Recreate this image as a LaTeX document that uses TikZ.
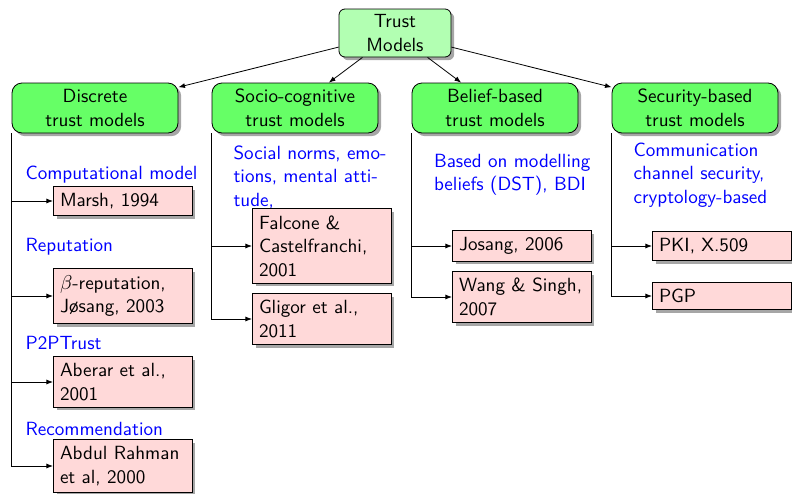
\documentclass[tikz,border=0pt]{standalone}
\usetikzlibrary{shadows,arrows.meta}
\renewcommand\familydefault{\sfdefault}
\begin{document}
\begin{tikzpicture}[x=0.5pt,y=-0.5pt,
  font=\sffamily\fontsize{9.55pt}{11.75pt}\selectfont,
  shade/.style={drop shadow={shadow xshift=1.6pt,shadow yshift=-1.6pt,opacity=0.35,fill=black}},
  rootbox/.style={draw, rounded corners=3pt, fill=green!30, align=center,
    minimum width=56pt, minimum height=24pt, inner sep=2pt, shade},
  catbox/.style={draw, rounded corners=5pt, fill=green!60, align=center,
    minimum width=83pt, minimum height=25pt, inner sep=2pt, shade},
  refbox/.style={draw, fill=red!15, text width=62.8pt, inner xsep=3.3pt, align=left, anchor=west, shade},
  note/.style={text=blue, align=left, anchor=west},
  arr/.style={-{Latex[length=3.3pt,width=2.5pt]}},
]
\useasboundingbox (0,0) rectangle (792,493);

% top level and categories
\node[rootbox] (root) at (395,33) {Trust\\Models};
\node[catbox] (disc) at (95,108) {Discrete\\trust models};
\node[catbox] (soc) at (295,108) {Socio-cognitive\\trust models};
\node[catbox] (bel) at (495,108) {Belief-based\\trust models};
\node[catbox] (sec) at (695,108) {Security-based\\trust models};

\foreach \c in {disc,soc,bel,sec}
  \draw[arr] (root) -- (\c);

% discrete trust models
\node[note] (n1) at (18.5,175) {Computational model};
\node[refbox] (marsh) at (53,201) {Marsh, 1994};
\node[note] (n2) at (18.5,247) {Reputation};
\node[refbox] (beta) at (53,296) {$\beta$-reputation, J\o sang, 2003};
\node[note] (n3) at (18.5,343) {P2PTrust};
\node[refbox] (aber) at (53,382) {Aberar et al., 2001};
\node[note] (n4) at (18.5,429) {Recommendation};
\node[refbox] (abdul) at (53,466) {Abdul Rahman et al, 2000};

% socio-cognitive trust models
\node[note] (n5) at (226.5,177) {Social norms, emo-\\tions, mental atti-\\tude,};
\node[refbox] (falc) at (252,246) {Falcone \& Castelfranchi, 2001};
\node[refbox] (glig) at (252,319) {Gligor et al., 2011};

% belief-based trust models
\node[note] (n6) at (427,175) {Based on modelling\\beliefs (DST), BDI};
\node[refbox] (jos) at (452,246) {Josang, 2006};
\node[refbox] (wang) at (452,297) {Wang \& Singh, 2007};

% security-based trust models
\node[note] (n7) at (626.5,175) {Communication\\channel security,\\cryptology-based};
\node[refbox] (pki) at (652,246) {PKI, X.509};
\node[refbox] (pgp) at (652,296) {PGP};

% tree connectors
\foreach \p/\r in {disc/marsh,disc/beta,disc/aber,disc/abdul,
                   soc/falc,soc/glig,bel/jos,bel/wang,sec/pki,sec/pgp}
  \draw[arr] (\p.south west) |- (\r.west);
\end{tikzpicture}
\end{document}
